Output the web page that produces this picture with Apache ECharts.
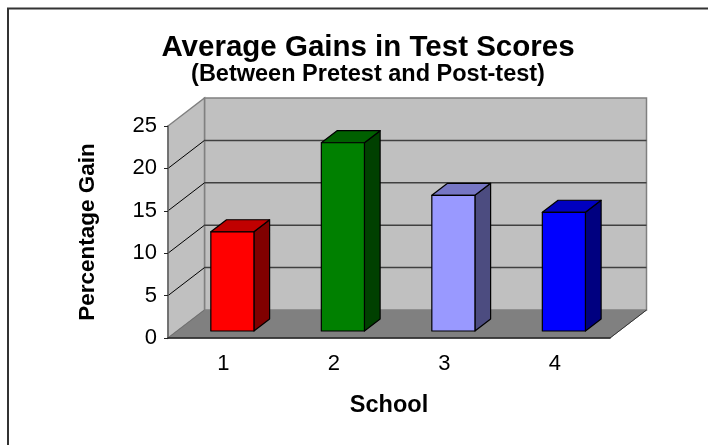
<!DOCTYPE html>
<html>
<head>
<meta charset="utf-8">
<script src="https://cdn.jsdelivr.net/npm/echarts@6/dist/echarts.min.js"></script>
<style>
  html, body { margin: 0; padding: 0; background: #fff; }
  #main { width: 708px; height: 445px; }
</style>
</head>
<body>
<div id="main"></div>
<script>
// data
var schools = ['1', '2', '3', '4'];
var gains = [11.7, 22.2, 16.0, 14.0];
var yTicks = [0, 5, 10, 15, 20, 25];

// look of the 3d box (style only)
var DX = 36.5, DY = -28;          // depth of the floor / walls
var F1 = 0.25, F2 = 0.68;         // front and back of the bars, as part of the depth
var barFront = ['#ff0000', '#008000', '#9999ff', '#0000ff'];
var barTop   = ['#c00000', '#006000', '#7676c4', '#0000c0'];
var barSide  = ['#800000', '#004000', '#4c4c80', '#000080'];
var FONT = '"Liberation Sans", Arial, sans-serif';

var chart = echarts.init(document.getElementById('main'));

function renderWalls(params, api) {
    var cs = params.coordSys;
    var x0 = cs.x, x1 = cs.x + cs.width;
    var yb = api.coord([0, yTicks[0]])[1];
    var yt = api.coord([0, yTicks[yTicks.length - 1]])[1];
    var kids = [];
    // floor
    kids.push({ type: 'polygon', shape: { points: [[x0, yb], [x1, yb], [x1 + DX, yb + DY], [x0 + DX, yb + DY]] },
        style: { fill: '#808080', stroke: '#808080', lineWidth: 1 } });
    // back wall
    kids.push({ type: 'polygon', shape: { points: [[x0 + DX, yb + DY], [x1 + DX, yb + DY], [x1 + DX, yt + DY], [x0 + DX, yt + DY]] },
        style: { fill: '#c0c0c0', stroke: '#808080', lineWidth: 1.5 } });
    // left wall
    kids.push({ type: 'polygon', shape: { points: [[x0, yb], [x0 + DX, yb + DY], [x0 + DX, yt + DY], [x0, yt]] },
        style: { fill: '#c0c0c0', stroke: '#808080', lineWidth: 1.5 } });
    // grid lines
    for (var i = 1; i < yTicks.length - 1; i++) {
        var y = api.coord([0, yTicks[i]])[1];
        kids.push({ type: 'line', shape: { x1: x0 + DX, y1: y + DY, x2: x1 + DX, y2: y + DY },
            style: { stroke: '#404040', lineWidth: 1.5 } });
        kids.push({ type: 'line', shape: { x1: x0, y1: y, x2: x0 + DX, y2: y + DY },
            style: { stroke: '#000', lineWidth: 1 } });
    }
    // floor edges
    kids.push({ type: 'line', shape: { x1: x1, y1: yb, x2: x1 + DX, y2: yb + DY },
        style: { stroke: '#333', lineWidth: 1 } });
    kids.push({ type: 'line', shape: { x1: x0, y1: yb, x2: x0 + DX, y2: yb + DY },
        style: { stroke: '#707070', lineWidth: 1 } });
    return { type: 'group', children: kids };
}

function renderBars(params, api) {
    var i = api.value(0);
    var top = api.coord([i, api.value(1)]);
    var base = api.coord([i, 0]);
    var w = api.size([1, 0])[0] * 0.39;
    var fx = DX * F1, fy = DY * F1;
    var bx = DX * (F2 - F1), by = DY * (F2 - F1);
    var l = top[0] - w / 2 + fx, r = top[0] + w / 2 + fx;
    var t = top[1] + fy, b = base[1] + fy;
    var edge = { stroke: '#000', lineWidth: 1.2, lineJoin: 'round' };
    return { type: 'group', children: [
        { type: 'polygon', shape: { points: [[r, b], [r + bx, b + by], [r + bx, t + by], [r, t]] },
          style: Object.assign({ fill: barSide[i] }, edge) },
        { type: 'polygon', shape: { points: [[l, t], [r, t], [r + bx, t + by], [l + bx, t + by]] },
          style: Object.assign({ fill: barTop[i] }, edge) },
        { type: 'rect', shape: { x: l, y: t, width: r - l, height: b - t },
          style: Object.assign({ fill: barFront[i] }, edge) }
    ] };
}

chart.setOption({
    backgroundColor: '#fff',
    animation: false,
    title: [{
        text: 'Average Gains in Test Scores',
        left: 363, top: 28, textAlign: 'center',
        textStyle: { fontFamily: FONT, fontSize: 29.5, fontWeight: 'bold', color: '#000' }
    }, {
        text: '(Between Pretest and Post-test)',
        left: 363, top: 58, textAlign: 'center',
        textStyle: { fontFamily: FONT, fontSize: 23.5, fontWeight: 'bold', color: '#000' }
    }],
    graphic: [{
        type: 'rect', shape: { x: 8, y: 8.5, width: 720, height: 460 },
        style: { fill: 'none', stroke: '#333', lineWidth: 2 }, silent: true
    }],
    grid: { left: 168, right: 98, top: 126, bottom: 107 },
    xAxis: {
        type: 'category',
        data: schools,
        z: 10,
        name: 'School',
        nameLocation: 'middle',
        nameGap: 56,
        nameTextStyle: { fontFamily: FONT, fontSize: 23.5, fontWeight: 'bold', color: '#000' },
        axisLine: { lineStyle: { color: '#222', width: 1.5 } },
        axisTick: { length: 5, lineStyle: { color: '#222' } },
        axisLabel: { fontFamily: FONT, fontSize: 22, color: '#000', margin: 15 }
    },
    yAxis: {
        type: 'value',
        min: 0, max: 25, interval: 5,
        z: 10,
        name: 'Percentage Gain',
        nameLocation: 'middle',
        nameGap: 69,
        nameRotate: 90,
        nameTextStyle: { fontFamily: FONT, fontSize: 22.5, fontWeight: 'bold', color: '#000' },
        splitLine: { show: false },
        axisLine: { show: true, lineStyle: { color: '#666', width: 1.5 } },
        axisTick: { show: true, length: 4, lineStyle: { color: '#222' } },
        axisLabel: { fontFamily: FONT, fontSize: 22, color: '#000', margin: 11 }
    },
    series: [{
        type: 'custom',
        z: 1,
        silent: true,
        renderItem: renderWalls,
        data: [[0, 0]]
    }, {
        type: 'custom',
        z: 2,
        renderItem: renderBars,
        encode: { x: 0, y: 1 },
        data: gains.map(function (v, i) { return [i, v]; })
    }]
});
</script>
</body>
</html>
